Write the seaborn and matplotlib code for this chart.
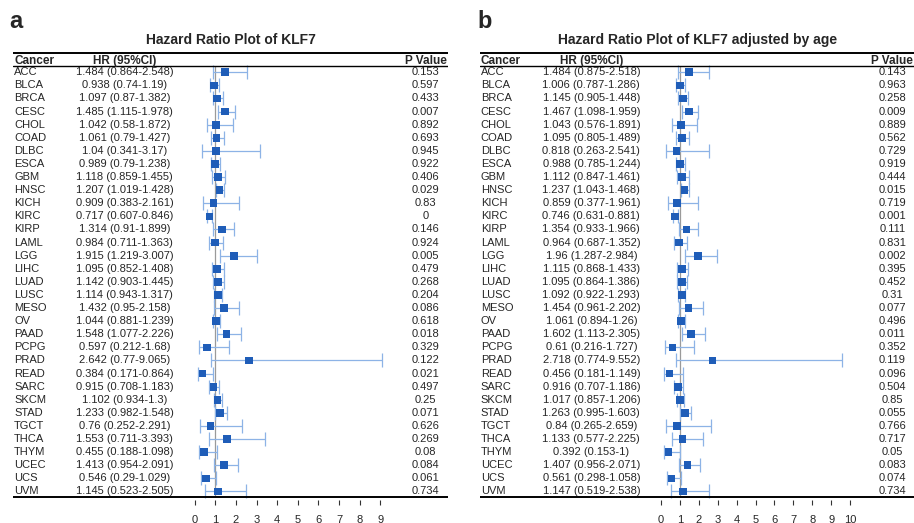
import matplotlib
matplotlib.use("Agg")
import matplotlib.pyplot as plt
import numpy as np
import pandas as pd
import seaborn as sns

# ==============================
# Data
# ==============================
cancers = ["ACC", "BLCA", "BRCA", "CESC", "CHOL", "COAD", "DLBC", "ESCA", "GBM",
           "HNSC", "KICH", "KIRC", "KIRP", "LAML", "LGG", "LIHC", "LUAD", "LUSC",
           "MESO", "OV", "PAAD", "PCPG", "PRAD", "READ", "SARC", "SKCM", "STAD",
           "TGCT", "THCA", "THYM", "UCEC", "UCS", "UVM"]

# panel a - unadjusted
hr_a = [1.484, 0.938, 1.097, 1.485, 1.042, 1.061, 1.04, 0.989, 1.118, 1.207, 0.909,
        0.717, 1.314, 0.984, 1.915, 1.095, 1.142, 1.114, 1.432, 1.044, 1.548, 0.597,
        2.642, 0.384, 0.915, 1.102, 1.233, 0.76, 1.553, 0.455, 1.413, 0.546, 1.145]
low_a = [0.864, 0.74, 0.87, 1.115, 0.58, 0.79, 0.341, 0.79, 0.859, 1.019, 0.383,
         0.607, 0.91, 0.711, 1.219, 0.852, 0.903, 0.943, 0.95, 0.881, 1.077, 0.212,
         0.77, 0.171, 0.708, 0.934, 0.982, 0.252, 0.711, 0.188, 0.954, 0.29, 0.523]
high_a = [2.548, 1.19, 1.382, 1.978, 1.872, 1.427, 3.17, 1.238, 1.455, 1.428, 2.161,
          0.846, 1.899, 1.363, 3.007, 1.408, 1.445, 1.317, 2.158, 1.239, 2.226, 1.68,
          9.065, 0.864, 1.183, 1.3, 1.548, 2.291, 3.393, 1.098, 2.091, 1.029, 2.505]
p_a = [0.153, 0.597, 0.433, 0.007, 0.892, 0.693, 0.945, 0.922, 0.406, 0.029, 0.83,
       0, 0.146, 0.924, 0.005, 0.479, 0.268, 0.204, 0.086, 0.618, 0.018, 0.329,
       0.122, 0.021, 0.497, 0.25, 0.071, 0.626, 0.269, 0.08, 0.084, 0.061, 0.734]

# panel b - adjusted by age
hr_b = [1.484, 1.006, 1.145, 1.467, 1.043, 1.095, 0.818, 0.988, 1.112, 1.237, 0.859,
        0.746, 1.354, 0.964, 1.96, 1.115, 1.095, 1.092, 1.454, 1.061, 1.602, 0.61,
        2.718, 0.456, 0.916, 1.017, 1.263, 0.84, 1.133, 0.392, 1.407, 0.561, 1.147]
low_b = [0.875, 0.787, 0.905, 1.098, 0.576, 0.805, 0.263, 0.785, 0.847, 1.043, 0.377,
         0.631, 0.933, 0.687, 1.287, 0.868, 0.864, 0.922, 0.961, 0.894, 1.113, 0.216,
         0.774, 0.181, 0.707, 0.857, 0.995, 0.265, 0.577, 0.153, 0.956, 0.298, 0.519]
high_b = [2.518, 1.286, 1.448, 1.959, 1.891, 1.489, 2.541, 1.244, 1.461, 1.468, 1.961,
          0.881, 1.966, 1.352, 2.984, 1.433, 1.386, 1.293, 2.202, 1.26, 2.305, 1.727,
          9.552, 1.149, 1.186, 1.206, 1.603, 2.659, 2.225, 1, 2.071, 1.058, 2.538]
p_b = [0.143, 0.963, 0.258, 0.009, 0.889, 0.562, 0.729, 0.919, 0.444, 0.015, 0.719,
       0.001, 0.111, 0.831, 0.002, 0.395, 0.452, 0.31, 0.077, 0.496, 0.011, 0.352,
       0.119, 0.096, 0.504, 0.85, 0.055, 0.766, 0.717, 0.05, 0.083, 0.074, 0.734]

titles = ["Hazard Ratio Plot of KLF7", "Hazard Ratio Plot of KLF7 adjusted by age"]
panel_labels = ["a", "b"]
xticks_a = list(range(0, 10))
xticks_b = list(range(0, 11))

# ==============================
# Style
# ==============================
sns.set_theme(style="white")
plt.rcParams["font.family"] = ["Liberation Sans", "DejaVu Sans"]

BOX_COLOR = "#1F5DB8"
CI_COLOR = "#8DB3E6"
W, H = 914, 523


def draw_panel(ax, hr, low, high, pvals, title, xticks):
    df = pd.DataFrame({"cancer": cancers, "hr": hr, "low": low, "high": high, "p": pvals})
    df["row"] = np.arange(len(df))

    ax.errorbar(df["hr"], df["row"], xerr=[df["hr"] - df["low"], df["high"] - df["hr"]],
                fmt="none", ecolor=CI_COLOR, elinewidth=0.9, capsize=5, capthick=0.9, zorder=2)
    sns.scatterplot(data=df, x="hr", y="row", marker="s", s=31, color=BOX_COLOR,
                    edgecolor="none", linewidth=0, ax=ax, zorder=3)

    # table text
    tr = ax.get_yaxis_transform()
    for _, r in df.iterrows():
        ax.text(0.002, r["row"], r["cancer"], transform=tr, ha="left", va="center", fontsize=8)
        ax.text(0.256, r["row"], f"{r['hr']:g} ({r['low']:g}-{r['high']:g})",
                transform=tr, ha="center", va="center", fontsize=8)
        ax.text(0.948, r["row"], f"{r['p']:g}", transform=tr, ha="center", va="center", fontsize=8)

    hy = -0.86
    ax.text(0.002, hy, "Cancer", transform=tr, ha="left", va="center", fontsize=8.5, fontweight="bold")
    ax.text(0.256, hy, "HR (95%CI)", transform=tr, ha="center", va="center", fontsize=8.5, fontweight="bold")
    ax.text(0.948, hy, "P Value", transform=tr, ha="center", va="center", fontsize=8.5, fontweight="bold")

    # table rules and reference line
    ax.axhline(-1.5, color="black", lw=1.4)
    ax.axhline(-0.45, color="black", lw=1.0)
    ax.axhline(32.42, color="black", lw=1.4)
    ax.vlines(1, -0.45, 32.42, color="#9a9a9a", lw=0.9, zorder=1)

    ax.set_ylim(32.65, -1.70)
    ax.set_xticks(xticks)
    ax.set_yticks([])
    ax.set_xlabel("")
    ax.set_ylabel("")
    for s in ax.spines.values():
        s.set_visible(False)
    ax.tick_params(axis="x", bottom=True, direction="out", length=3.6, width=0.8,
                   color="#333333", labelsize=8, pad=7)
    ax.set_title(title, fontsize=10, fontweight="bold", pad=4.5)


fig = plt.figure(figsize=(W / 100, H / 100), dpi=100)
bottom = 1 - 500 / H
height = (500 - 50) / H

# panel a: table spans 13..448 px, x=0 at 194.7 px, 20.62 px per unit
ax_a = fig.add_axes([13.3 / W, bottom, 435 / W, height])
draw_panel(ax_a, hr_a, low_a, high_a, p_a, titles[0], xticks_a)
ax_a.set_xlim((13.3 - 194.7) / 20.62, (448.3 - 194.7) / 20.62)

# panel b: table spans 480..915 px, x=0 at 661 px, 18.9 px per unit
ax_b = fig.add_axes([480 / W, bottom, 435 / W, height])
draw_panel(ax_b, hr_b, low_b, high_b, p_b, titles[1], xticks_b)
ax_b.set_xlim((480 - 661) / 18.9, (915 - 661) / 18.9)

fig.text(9 / W, 1 - 21 / H, panel_labels[0], fontsize=17, fontweight="bold", va="center", ha="left")
fig.text(477 / W, 1 - 21 / H, panel_labels[1], fontsize=17, fontweight="bold", va="center", ha="left")

fig.savefig("out.png", dpi=100)
